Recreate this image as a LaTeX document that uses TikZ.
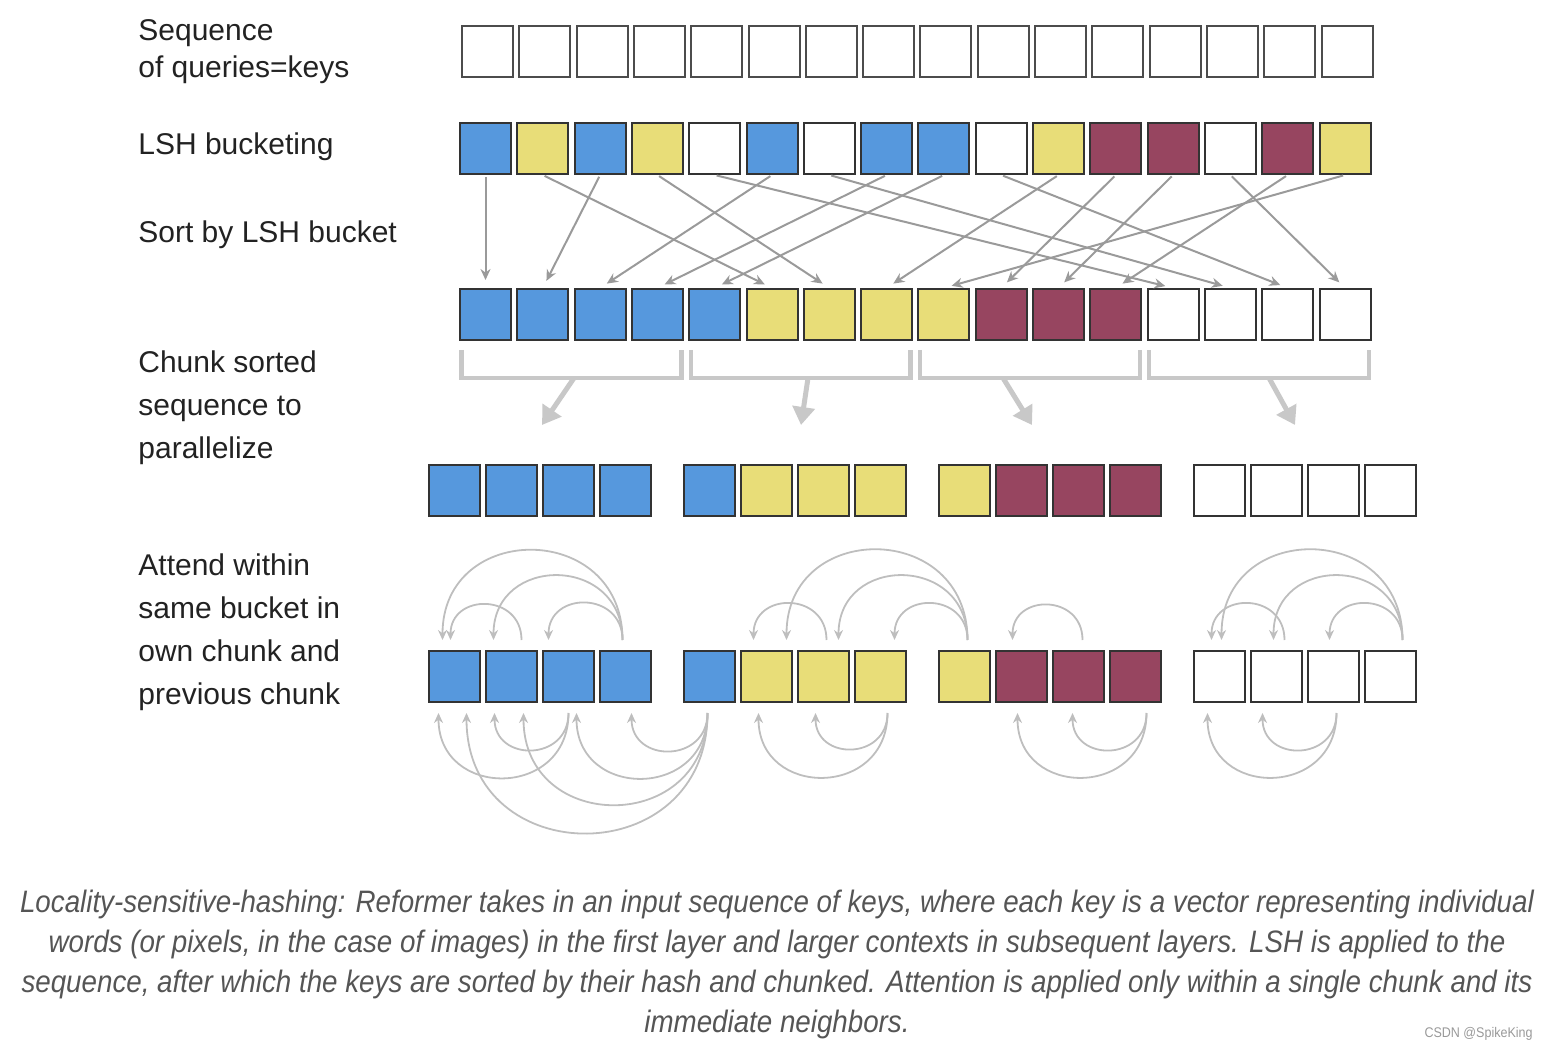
\documentclass[tikz,border=0pt]{standalone}
\usepackage{fontspec}
\setmainfont{Liberation Sans}
\newfontfamily\capfont[FakeStretch=0.895]{Liberation Sans}
\usetikzlibrary{arrows.meta,calc}
\definecolor{colB}{HTML}{5698DD}
\definecolor{colY}{HTML}{E8DD78}
\definecolor{colR}{HTML}{974560}
\definecolor{colW}{HTML}{FFFFFF}
\definecolor{labeltext}{HTML}{222222}
\definecolor{captext}{HTML}{555555}
\definecolor{sortgray}{HTML}{9A9A9A}
\definecolor{chunkgray}{HTML}{C8C8C8}
\definecolor{attngray}{HTML}{BEBEBE}

\begin{document}
\begin{tikzpicture}[x=0.5pt,y=0.5pt,
   keycell/.style={draw=black!80,line width=1pt,minimum size=25.5pt,inner sep=0pt},
   rowlabel/.style={anchor=west,inner sep=0pt,text=labeltext,align=left,
      font=\fontsize{15}{21.5}\selectfont},
   sortarrow/.style={draw=sortgray,line width=1pt,-{Stealth[length=5.5pt,width=5pt]},
      shorten >=4pt,shorten <=1pt},
   chunkbracket/.style={draw=chunkgray,line width=2.2pt},
   chunkarrow/.style={draw=chunkgray,line width=2.5pt,-{Triangle[length=9pt,width=11pt]}},
   attn/.style={draw=attngray,line width=0.9pt,-{Stealth[length=5pt,width=4.5pt]}},
   arcup/.style={out=90,in=90,looseness=1.7},
   arcdown/.style={out=-90,in=-90,looseness=1.7}]
\useasboundingbox (0,0) rectangle (1550,-1052);

% labels
\node[rowlabel,font=\fontsize{15}{18.5}\selectfont] (lq) at (138,-51.5) {Sequence\\of queries=keys};
\node[rowlabel] (ll) at (138,-147) {LSH bucketing};
\node[rowlabel] (ls) at (138,-235) {Sort by LSH bucket};
\node[rowlabel] (lc) at (138,-408) {Chunk sorted\\sequence to\\parallelize};
\node[rowlabel] (la) at (138,-632) {Attend within\\same bucket in\\own chunk and\\previous chunk};

% input sequence
\foreach \i in {0,...,15}
   \node[keycell,draw=black!70] (q\i) at ({487.5+57.3*\i},-52) {};

% bucketed and sorted rows
\foreach \c [count=\i from 0] in {B,Y,B,Y,W,B,W,B,B,W,Y,R,R,W,R,Y}
   \node[keycell,fill=col\c] (b\i) at ({485.5+57.3*\i},-148.5) {};
\foreach \c [count=\i from 0] in {B,B,B,B,B,Y,Y,Y,Y,R,R,R,W,W,W,W}
   \node[keycell,fill=col\c] (s\i) at ({485.5+57.3*\i},-314.5) {};

\foreach \s/\t in {0/0,2/1,5/2,7/3,8/4,1/5,3/6,10/7,15/8,11/9,12/10,14/11,4/12,6/13,9/14,13/15}
   \draw[sortarrow] (b\s.south) -- (s\t.north);

% chunking
\foreach \l/\r in {0/3,4/7,8/11,12/15}
   \draw[chunkbracket] ($(s\l.south west)+(2.5,-9)$) -- ++(0,-28) -| ($(s\r.south east)+(-2.5,-9)$);
\foreach \k/\xa/\xb in {1/574/542,2/808/801,3/1003/1032,4/1269/1295} {
   \coordinate (bk\k) at (\xa,-378);
   \coordinate (ck\k) at (\xb,-425);
   \draw[chunkarrow] (bk\k) -- (ck\k);
}

\foreach \k/\cols in {1/{B,B,B,B},2/{B,Y,Y,Y},3/{Y,R,R,R},4/{W,W,W,W}}
   \foreach \c [count=\i from 0] in \cols {
      \node[keycell,fill=col\c] (c\k\i) at ({454.5+255*(\k-1)+57*\i},-491) {};
      \node[keycell,fill=col\c] (a\k\i) at ({454.5+255*(\k-1)+57*\i},-676.5) {};
   }

% attention, own chunk
\foreach \s/\ds/\t/\dt in {a13/-3/a10/-12,a13/-3/a11/-18,a13/-3/a12/-20,a11/10/a10/-4,
      a30/3/a21/20,a30/3/a22/15,a30/3/a23/14,a22/3/a21/-13,a32/4/a31/-9,
      a43/12/a40/2,a43/12/a41/-3,a43/12/a42/-4,a41/8/a40/-8}
   \draw[attn] ($(\s.north)+(\ds,10)$) to[arcup] ($(\t.north)+(\dt,10)$);
% attention, previous chunk
\foreach \s/\ds/\t/\dt in {a12/0/a11/-17,a12/0/a10/-16,a20/-2/a13/6,a20/-2/a12/8,
      a20/-2/a11/12,a20/-2/a10/12,a23/7/a22/-8,a23/7/a21/-8,a33/11/a32/-6,
      a33/11/a31/-4,a42/3/a41/-14,a42/3/a40/-12}
   \draw[attn] ($(\s.south)+(\ds,-10)$) to[arcdown] ($(\t.south)+(\dt,-10)$);

% caption
\node[align=center,text=captext,inner sep=0pt,font=\capfont\itshape\fontsize{15.5}{20}\selectfont] (cap) at (777,-964.5)
   {Locality-sensitive-hashing: Reformer takes in an input sequence of keys, where each key is a vector representing individual\\
    words (or pixels, in the case of images) in the first layer and larger contexts in subsequent layers. LSH is applied to the\\
    sequence, after which the keys are sorted by their hash and chunked. Attention is applied only within a single chunk and its\\
    immediate neighbors.};
\node[anchor=east,text=black!40,inner sep=0pt,font=\capfont\fontsize{7}{8}\selectfont] (wm) at (1533,-1034) {CSDN @SpikeKing};
\end{tikzpicture}
\end{document}
